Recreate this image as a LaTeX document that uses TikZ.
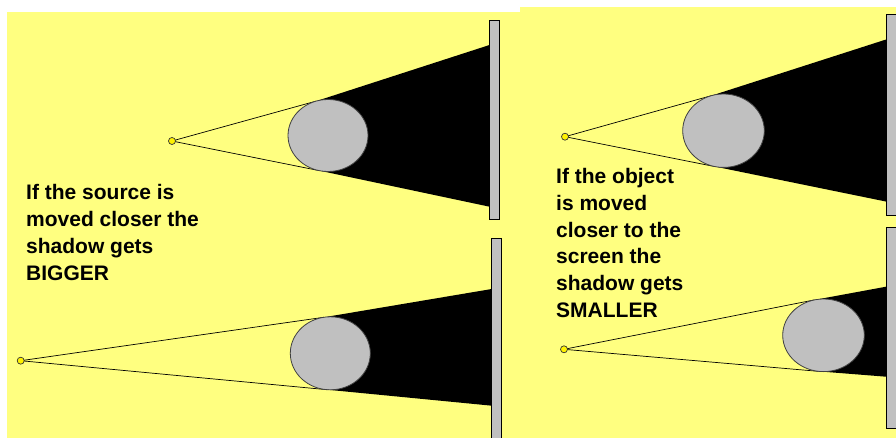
\documentclass[tikz,border=0pt]{standalone}
\usepackage{fontspec}
\setmainfont{Liberation Sans}
\usepackage{xcolor}
\definecolor{paper}{HTML}{FFFF80}
\definecolor{stone}{HTML}{C0C0C0}

\begin{document}
\begin{tikzpicture}[x=1pt, y=-1pt]
    \tikzstyle{backdrop} = [fill=paper]
    \tikzstyle{umbra}    = [fill=black]
    \tikzstyle{ray}      = [draw=black, line width=0.7pt]
    \tikzstyle{blocker}  = [fill=stone, draw=black!75, line width=0.8pt]
    \tikzstyle{screenbar}= [fill=stone, draw=black, line width=0.9pt]
    \tikzstyle{lamp}     = [fill=yellow, draw=black!80, line width=0.7pt]
    \tikzstyle{note}     = [align=left, inner sep=0pt, font={\fontsize{21}{26.7}\selectfont\bfseries}]

    \useasboundingbox (0,0) rectangle (896,438);
    \fill[backdrop] (7,12) rectangle (520,438);
    \fill[backdrop] (520,7) rectangle (896,438);

    % source x/y, object centre/radii, screen x/top/bottom, shadow edges on the screen
    \foreach \sx/\sy/\cx/\cy/\rx/\ry/\wx/\wt/\wb/\hu/\hl in {
        172/141/328/135.5/40/36/489.5/20/219.5/45/206.7,
        20.7/360.7/330.3/353.3/40/36.5/491.7/238.3/445/289/405.7,
        565/136.7/723.5/130.7/40.8/36.7/886.7/14/215/39.3/201.7,
        564/349.3/823.5/335.3/40.8/36.3/886/227.3/428.3/286.7/376.7} {
        \pgfmathsetmacro\ux{(\sx-\cx)/\rx}
        \pgfmathsetmacro\uy{(\sy-\cy)/\ry}
        \pgfmathsetmacro\ua{atan2(\uy,\ux)}
        \pgfmathsetmacro\ub{acos(1/sqrt(\ux*\ux+\uy*\uy))}
        \coordinate (src) at (\sx,\sy);
        \coordinate (tup) at ({\cx+\rx*cos(\ua+\ub)},{\cy+\ry*sin(\ua+\ub)});
        \coordinate (tlo) at ({\cx+\rx*cos(\ua-\ub)},{\cy+\ry*sin(\ua-\ub)});
        \coordinate (hup) at (\wx,\hu);
        \coordinate (hlo) at (\wx,\hl);

        \fill[umbra] (tup) -- (hup) -- (hlo) -- (tlo) -- cycle;
        \draw[ray] (src) -- (tup);
        \draw[ray] (src) -- (tlo);
        \draw[blocker] (\cx,\cy) ellipse [x radius=\rx, y radius=\ry];
        \draw[screenbar] (\wx,\wt) rectangle (\wx+10,\wb);
        \draw[lamp] (src) circle [radius=3.5];
    }

    \node (sourcenote) [note, anchor=north west] at (26,184.5)
        {If the source is\\moved closer the\\shadow gets\\BIGGER};
    \node (objectnote) [note, anchor=north west] at (556,168.3)
        {If the object\\is moved\\closer to the\\screen the\\shadow gets\\SMALLER};
\end{tikzpicture}
\end{document}
